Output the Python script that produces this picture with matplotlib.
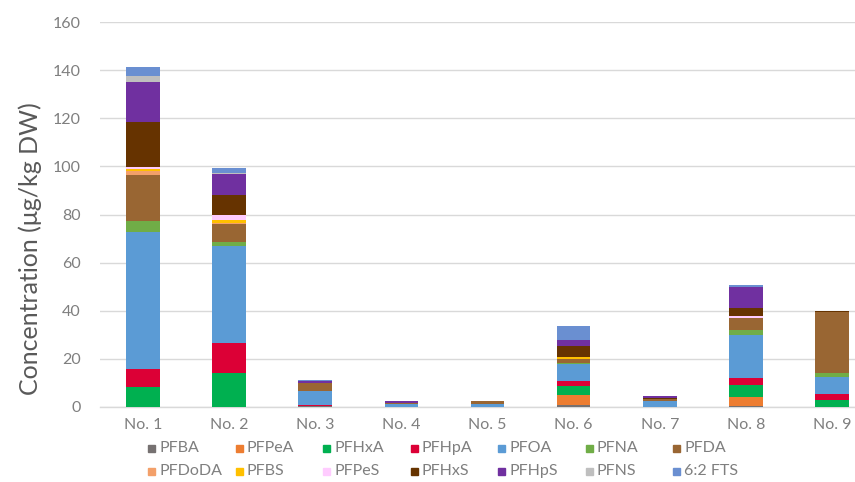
import matplotlib
matplotlib.use("Agg")
import matplotlib.pyplot as plt
from matplotlib.patches import Rectangle
import numpy as np

plt.rcParams['font.family'] = ['Lato', 'DejaVu Sans']

samples = ["No. 1", "No. 2", "No. 3", "No. 4", "No. 5", "No. 6", "No. 7", "No. 8", "No. 9"]
compounds = ["PFBA", "PFPeA", "PFHxA", "PFHpA", "PFOA", "PFNA", "PFDA",
             "PFDoDA", "PFBS", "PFPeS", "PFHxS", "PFHpS", "PFNS", "6:2 FTS"]

PFBA = [0, 0, 0.6, 0, 0, 1.0, 0, 0.3, 0]
PFPeA = [0, 0, 0, 0, 0, 4.0, 0, 3.8, 0]
PFHxA = [8.2, 14.2, 0, 0, 0, 3.8, 0, 5.0, 2.9]
PFHpA = [7.5, 12.2, 0.3, 0, 0, 2.0, 0, 2.9, 2.5]
PFOA = [57.0, 40.5, 5.6, 1.3, 1.4, 7.2, 2.5, 17.8, 6.9]
PFNA = [4.8, 1.5, 0.3, 0, 0, 0.4, 0, 2.1, 1.7]
PFDA = [19.1, 7.7, 3.0, 0.3, 0.9, 1.4, 0.9, 5.1, 25.3]
PFDoDA = [1.4, 0.5, 0, 0, 0, 0.3, 0, 0, 0]
PFBS = [1.1, 1.3, 0, 0, 0, 0.8, 0, 0, 0]
PFPeS = [0.7, 2.0, 0, 0, 0, 0, 0, 0.7, 0]
PFHxS = [18.5, 8.4, 0.3, 0, 0, 4.4, 0.3, 3.3, 0.8]
PFHpS = [16.6, 8.4, 0.8, 0.8, 0.2, 2.5, 1.0, 8.9, 0]
PFNS = [2.7, 0.6, 0, 0, 0, 0, 0, 0, 0]
FTS62 = [3.7, 1.9, 0.5, 0, 0, 5.9, 0, 1.0, 0]

series = [PFBA, PFPeA, PFHxA, PFHpA, PFOA, PFNA, PFDA,
          PFDoDA, PFBS, PFPeS, PFHxS, PFHpS, PFNS, FTS62]
colors = ['#767171', '#ED7D31', '#00B050', '#DC0036', '#5B9BD5', '#70AD47', '#996633',
          '#F3A06A', '#FFC000', '#FFCCFF', '#663300', '#7030A0', '#BFBFBF', '#6A8FD1']

W, H = 855, 482
fig = plt.figure(figsize=(W / 100, H / 100), dpi=100)
ax_left, ax_right, ax_top, ax_bottom = 100, 875, 22, 407
ax = fig.add_axes([ax_left / W, 1 - ax_bottom / H, (ax_right - ax_left) / W, (ax_bottom - ax_top) / H])

x = np.arange(len(samples))
bottom = np.zeros(len(samples))
for name, vals, c in zip(compounds, series, colors):
    v = np.array(vals, dtype=float)
    ax.bar(x, v, bottom=bottom, width=0.39, color=c, linewidth=0, label=name, zorder=3)
    bottom += v

ax.set_xlim(-0.5, len(samples) - 0.5)
ax.set_ylim(0, 160)
ax.set_yticks(np.arange(0, 161, 20))
ax.set_xticks(x)
ax.set_xticklabels(samples)
ax.grid(axis='y', color='#D9D9D9', linewidth=1.0, zorder=0)
for s in ['top', 'right', 'left']:
    ax.spines[s].set_visible(False)
ax.spines['bottom'].set_color('#D9D9D9')
ax.spines['bottom'].set_linewidth(1.0)
ax.tick_params(axis='both', length=0, labelsize=11.5, colors='#7F7F7F')
ax.tick_params(axis='y', pad=14)
ax.tick_params(axis='x', pad=8)
fig.text(30 / W, 1 - 249 / H, "Concentration (μg/kg DW)", rotation=90, fontsize=18,
         color='#595959', ha='center', va='center')

# Legend (Excel-style, equal column widths)
x0, dx = 148, 87.5
rows_y = [448, 471]
sq = 7
for i, (name, c) in enumerate(zip(compounds, colors)):
    r, col = divmod(i, 7)
    px = x0 + col * dx
    py = rows_y[r]
    fig.patches.append(Rectangle((px / W, 1 - (py + sq / 2) / H), sq / W, sq / H,
                                 transform=fig.transFigure, color=c, figure=fig))
    fig.text((px + sq + 4) / W, 1 - py / H, name, fontsize=11.5, color='#7F7F7F',
             ha='left', va='center')

fig.savefig("out.png", dpi=100)
